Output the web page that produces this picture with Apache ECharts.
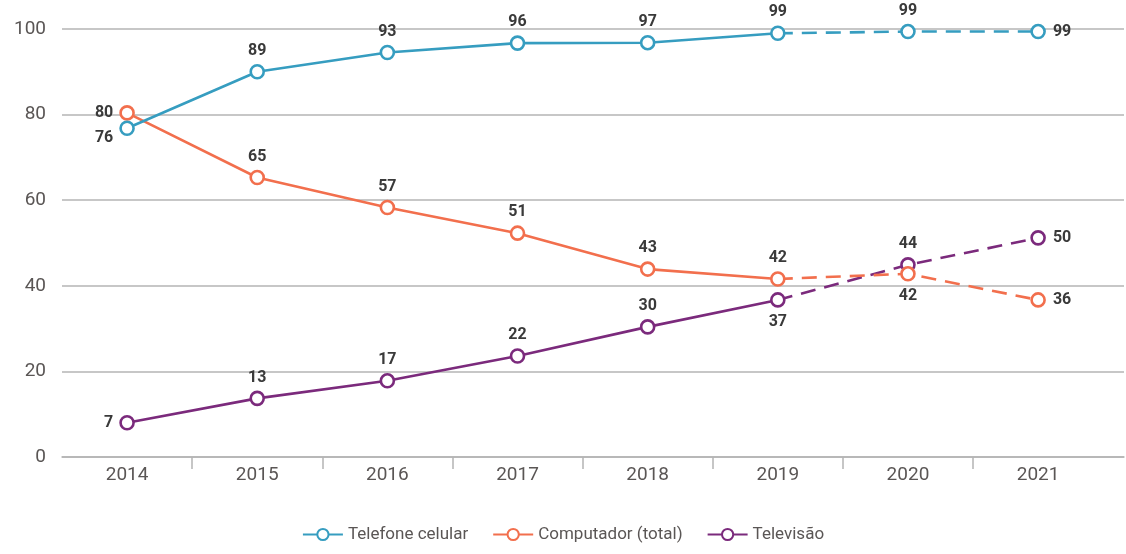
<!DOCTYPE html>
<html>
<head>
<meta charset="utf-8">
<script src="https://cdn.jsdelivr.net/npm/echarts@6/dist/echarts.min.js"></script>
<style>
html,body{margin:0;padding:0;background:#fff;}
#c1{width:1126px;height:554px;}
</style>
</head>
<body>
<div id="c1"></div>
<script>
// dados
const years = ['2014', '2015', '2016', '2017', '2018', '2019', '2020', '2021']
const yTicks = [0, 20, 40, 60, 80, 100]
const celular = [76.8, 90.0, 94.5, 96.7, 96.8, 99.0, 99.4, 99.4]
const celularLabels = [76, 89, 93, 96, 97, 99, 99, 99]
const computador = [80.4, 65.3, 58.3, 52.3, 43.9, 41.6, 42.8, 36.7]
const computadorLabels = [80, 65, 57, 51, 43, 42, 42, 36]
const televisao = [8.0, 13.7, 17.8, 23.6, 30.4, 36.7, 44.9, 51.2]
const televisaoLabels = [7, 13, 17, 22, 30, 37, 44, 50]
const lastSolid = 5 // 2019: depois disso a linha e tracejada

const txt = '#3a3a3a'
const axisTxt = '#5a5655'
const gridCol = '#b4b4b4'
const font = "'Roboto', 'Liberation Sans', sans-serif"

let chart = echarts.init(document.getElementById('c1'))

// posicao do rotulo de cada ponto
function labelFor(pos, i){
    if(pos[i] === 'left') return {position:'left', distance:6}
    if(pos[i] === 'leftlow') return {position:'left', distance:6, offset:[0, 10]}
    if(pos[i] === 'right') return {position:'right', distance:7}
    if(pos[i] === 'bottom') return {position:'bottom', distance:6}
    return {position:'top', distance:5}
}

function makeSeries(name, color, values, labels, pos){
    let solid = [], dashed = []
    for(let i = 0; i < values.length; ++i){
        let item = {value:[i, values[i]], label:labelFor(pos, i)}
        solid.push(i <= lastSolid ? item : {value:[i, null]})
        if(i >= lastSolid){
            dashed.push(i === lastSolid
                ? {value:[i, values[i]], symbol:'none', label:{show:false}}
                : item)
        }else{
            dashed.push({value:[i, null]})
        }
    }
    let common = {
        name:name,
        type:'line',
        symbol:'circle',
        symbolSize:13,
        showAllSymbol:true,
        itemStyle:{color:'#fff', borderColor:color, borderWidth:2.6},
        label:{
            show:true,
            color:txt,
            fontFamily:font,
            fontWeight:'bold',
            fontSize:16,
            formatter:function(p){ return String(labels[p.value[0]]) }
        },
        emphasis:{disabled:true},
        animation:false
    }
    return [
        Object.assign({}, common, {lineStyle:{color:color, width:2.6}, data:solid}),
        Object.assign({}, common, {lineStyle:{color:color, width:2.6, type:[15, 9]}, data:dashed})
    ]
}

let series = [].concat(
    makeSeries('Televisão', '#7b2a7c', televisao, televisaoLabels,
        ['left', 'top', 'top', 'top', 'top', 'bottom', 'top', 'right']),
    makeSeries('Computador (total)', '#f26f4d', computador, computadorLabels,
        ['left', 'top', 'top', 'top', 'top', 'top', 'bottom', 'right']),
    makeSeries('Telefone celular', '#369dc0', celular, celularLabels,
        ['leftlow', 'top', 'top', 'top', 'top', 'top', 'top', 'right'])
)

let option = {
    backgroundColor:'#fff',
    textStyle:{fontFamily:font},
    grid:{left:62, right:2, top:29, bottom:97, containLabel:false},
    legend:{
        bottom:6,
        left:'center',
        itemWidth:40,
        itemHeight:14,
        itemGap:24,
        data:['Telefone celular', 'Computador (total)', 'Televisão'],
        textStyle:{color:axisTxt, fontFamily:font, fontSize:17}
    },
    xAxis:{
        type:'value',
        min:-0.5,
        max:7.66,
        splitLine:{show:false},
        axisLine:{lineStyle:{color:gridCol, width:1.5}},
        axisTick:{
            show:true,
            length:12,
            lineStyle:{color:gridCol, width:1.5},
            customValues:years.slice(1).map(function(y, i){ return i + 0.5 })
        },
        axisLabel:{
            color:axisTxt,
            fontFamily:font,
            fontSize:19,
            margin:9,
            customValues:years.map(function(y, i){ return i }),
            formatter:function(v){ return years[Math.round(v)] || '' }
        }
    },
    yAxis:{
        type:'value',
        min:yTicks[0],
        max:yTicks[yTicks.length - 1],
        interval:20,
        axisLine:{show:false},
        axisTick:{show:false},
        splitLine:{lineStyle:{color:gridCol, width:1.5}},
        axisLabel:{color:axisTxt, fontFamily:font, fontSize:19, margin:16}
    },
    series:series
}
chart.setOption(option)
</script>
</body>
</html>
